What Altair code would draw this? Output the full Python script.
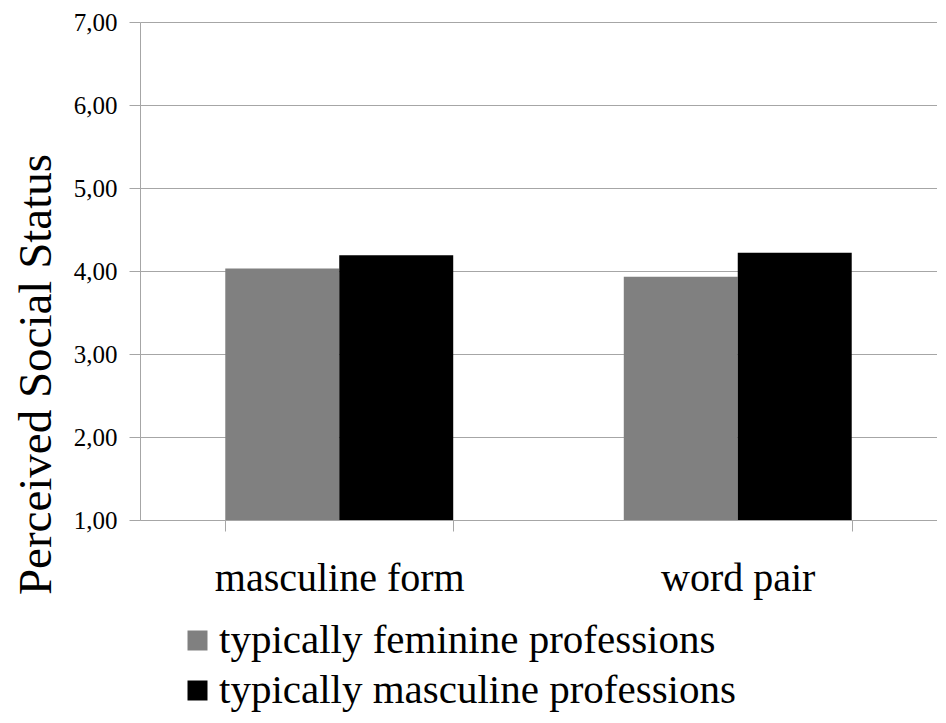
import altair as alt
import pandas as pd

categories = ["masculine form", "masculine form", "word pair", "word pair"]
groups = ["typically feminine professions", "typically masculine professions",
          "typically feminine professions", "typically masculine professions"]
values = [4.03, 4.19, 3.93, 4.22]

df = pd.DataFrame({"cat": categories, "grp": groups, "val": values})

FONT = "'Liberation Serif', 'Times New Roman', Times, serif"
GRID = "#a6a6a6"

chart = alt.Chart(df).mark_bar().encode(
    x=alt.X("cat:N", sort=["masculine form", "word pair"],
            scale=alt.Scale(paddingInner=0.428, paddingOuter=0.214),
            axis=alt.Axis(title=None, labelAngle=0, labelFont=FONT, labelFontSize=40,
                          labelColor="black", labelPadding=27, tickBand="extent",
                          labelLimit=500,
                          domainColor=GRID, tickColor=GRID, tickSize=11)),
    xOffset=alt.XOffset("grp:N", scale=alt.Scale(paddingInner=0, paddingOuter=0)),
    y=alt.Y("val:Q", scale=alt.Scale(domain=[1, 7], nice=False, zero=False),
            axis=alt.Axis(title="Perceived Social Status", values=[1, 2, 3, 4, 5, 6, 7],
                          labelExpr="replace(format(datum.value, '.2f'), '.', ',')",
                          labelFont=FONT, labelFontSize=25, labelColor="black",
                          labelPadding=12, tickSize=11, tickColor=GRID, domainColor=GRID,
                          gridColor=GRID, titleFont=FONT, titleFontSize=47,
                          titleFontWeight="normal", titleColor="black",
                          titleX=-104, titleY=352, titleAngle=-90,
                          titleAlign="center", titleBaseline="middle")),
    y2=alt.datum(1),
    color=alt.Color("grp:N",
                    scale=alt.Scale(domain=["typically feminine professions",
                                            "typically masculine professions"],
                                    range=["#808080", "#000000"]),
                    legend=alt.Legend(title=None, orient="none", legendX=37, legendY=598,
                                      symbolType="square", symbolSize=400,
                                      symbolStrokeWidth=0, labelFont=FONT,
                                      labelFontSize=41, labelColor="black",
                                      labelLimit=700, rowPadding=8, labelOffset=1)),
).properties(
    width=797, height=498,
    autosize=alt.AutoSizeParams(type="none"),
    padding={"left": 132, "top": 14, "right": 0, "bottom": 200},
).configure_view(stroke=None)

chart.save("out.html", embed_options={"renderer": "svg", "actions": False})
